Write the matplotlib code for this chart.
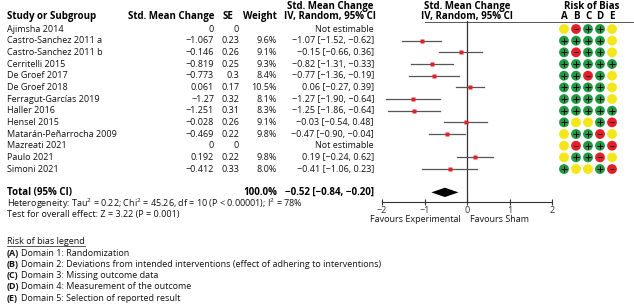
import matplotlib
matplotlib.use('Agg')
import matplotlib.pyplot as plt
import numpy as np

# ---- data ----
studies = ['Ajimsha 2014', 'Castro-Sanchez 2011 a', 'Castro-Sanchez 2011 b',
           'Cerritelli 2015', 'De Groef 2017', 'De Groef 2018',
           'Ferragut-Garcías 2019', 'Haller 2016', 'Hensel 2015',
           'Matarán-Peñarrocha 2009', 'Mazreati 2021', 'Paulo 2021',
           'Simoni 2021']
smc = [0, -1.067, -0.146, -0.819, -0.773, 0.061, -1.27, -1.251, -0.028,
       -0.469, 0, 0.192, -0.412]
se = [0, 0.23, 0.26, 0.25, 0.3, 0.17, 0.32, 0.31, 0.26, 0.22, 0, 0.22, 0.33]
weight = [None, 9.6, 9.1, 9.3, 8.4, 10.5, 8.1, 8.3, 9.1, 9.8, None, 9.8, 8.0]
est = [None, -1.07, -0.15, -0.82, -0.77, 0.06, -1.27, -1.25, -0.03, -0.47,
       None, 0.19, -0.41]
ci_lo = [None, -1.52, -0.66, -1.31, -1.36, -0.27, -1.90, -1.86, -0.54,
         -0.90, None, -0.24, -1.06]
ci_hi = [None, -0.62, 0.36, -0.33, -0.19, 0.39, -0.64, -0.64, 0.48, -0.04,
         None, 0.62, 0.23]
total_est, total_lo, total_hi = -0.52, -0.84, -0.20
heterogeneity = ('Heterogeneity: Tau$^2$ = 0.22; Chi$^2$ = 45.26, df = 10 '
                 '(P < 0.00001); I$^2$ = 78%')
overall = 'Test for overall effect: Z = 3.22 (P = 0.001)'
xticks = [-2, -1, 0, 1, 2]

# risk of bias: '+' low, '-' high, '?' unclear (yellow)
domains = ['A', 'B', 'C', 'D', 'E']
rob = ['?-++?', '++++?', '+-++?', '+++++', '++-+?', '++++?', '++++?',
       '+++++', '+??+-', '?++-?', '?-++-', '?++-?', '+??+-']
legend_lines = ['Randomization',
                'Deviations from intended interventions (effect of adhering to interventions)',
                'Missing outcome data',
                'Measurement of the outcome',
                'Selection of reported result']

W, H = 634, 305
FS = 6.5
FSB = 7.0
plt.rcParams['font.family'] = ['Open Sans', 'DejaVu Sans']
plt.rcParams['mathtext.fontset'] = 'custom'
plt.rcParams['mathtext.rm'] = 'Open Sans'


def fmt(v):
    return f'{v:g}'.replace('-', '\u2212')


def fmt2(v):
    return f'{v:.2f}'.replace('-', '\u2212')


fig = plt.figure(figsize=(W / 100, H / 100), dpi=100)

# text layer in pixel coordinates
ax = fig.add_axes([0, 0, 1, 1])
ax.set_xlim(0, W)
ax.set_ylim(H, 0)
ax.axis('off')

row0, dy = 29, 11.67


def row_y(i):
    return row0 + dy * i


hb = dict(fontsize=FSB, fontweight='bold', va='center')
h1, h2 = 6.5, 16.5
ax.text(7, h2, 'Study or Subgroup', ha='left', **hb)
ax.text(214, h2, 'Std. Mean Change', ha='right', **hb)
ax.text(233, h2, 'SE', ha='right', **hb)
ax.text(277, h2, 'Weight', ha='right', **hb)
ax.text(330, h1, 'Std. Mean Change', ha='center', **hb)
ax.text(330, h2, 'IV, Random, 95% CI', ha='center', **hb)
ax.text(467, h1, 'Std. Mean Change', ha='center', **hb)
ax.text(467, h2, 'IV, Random, 95% CI', ha='center', **hb)
ax.text(592, h1, 'Risk of Bias', ha='center', **hb)
ax.plot([425, W], [22, 22], color='#555555', lw=0.7)

tk = dict(fontsize=FS, va='center', color='#111111')
for i, name in enumerate(studies):
    y = row_y(i)
    ax.text(7, y, name, ha='left', **tk)
    ax.text(214, y, fmt(smc[i]), ha='right', **tk)
    ax.text(239, y, fmt(se[i]), ha='right', **tk)
    if weight[i] is not None:
        ax.text(277, y, f'{weight[i]:.1f}%', ha='right', **tk)
        ax.text(374, y, f'{fmt2(est[i])} [{fmt2(ci_lo[i])}, {fmt2(ci_hi[i])}]',
                ha='right', **tk)
    else:
        ax.text(374, y, 'Not estimable', ha='right', **tk)

yt = row_y(14)
ax.text(7, yt, 'Total (95% CI)', ha='left', **hb)
ax.text(277, yt, f'{sum(w for w in weight if w):.1f}%', ha='right', **hb)
ax.text(374, yt, f'{fmt2(total_est)} [{fmt2(total_lo)}, {fmt2(total_hi)}]',
        ha='right', **hb)
ax.text(7, 204, heterogeneity, ha='left', **tk)
ax.text(7, 215, overall, ha='left', **tk)

leg_title = ax.text(7, 241, 'Risk of bias legend', ha='left', **tk)
for k, (d, txt) in enumerate(zip(domains, legend_lines)):
    y = 253 + 11.3 * k
    ax.text(7, y, f'({d})', ha='left', fontweight='bold', **tk)
    ax.text(21, y, f'Domain {k + 1}: {txt}', ha='left', **tk)

ax.text(461, 220, 'Favours Experimental', ha='right', **tk)
ax.text(470, 220, 'Favours Sham', ha='left', **tk)

# underline the legend title to its own width
fig.canvas.draw()
bb = leg_title.get_window_extent()
ax.plot([7, 7 + bb.width], [246, 246], color='#111111', lw=0.5)

# forest plot axes: -2..2 spans px 382..552, rows share the text grid
top_px, bot_px = 21, 202
ylim_top = (top_px - row0) / dy
ylim_bot = (bot_px - row0) / dy
fx = fig.add_axes([382 / W, 1 - bot_px / H, 170 / W, (bot_px - top_px) / H])
fx.set_xlim(-2, 2)
fx.set_ylim(ylim_bot, ylim_top)
fx.patch.set_alpha(0)
for s in ['top', 'left', 'right']:
    fx.spines[s].set_visible(False)
fx.spines['bottom'].set_color('#333333')
fx.spines['bottom'].set_linewidth(0.8)
fx.set_yticks([])
fx.set_xticks(xticks)
fx.set_xticklabels([fmt(t) for t in xticks], fontsize=FS)
fx.tick_params(axis='x', direction='inout', length=5, width=0.8,
               pad=0.5, colors='#333333')
fx.axvline(0, color='#333333', lw=0.9)

for i in range(len(studies)):
    if est[i] is None:
        continue
    fx.plot([ci_lo[i], ci_hi[i]], [i, i], color='#555555', lw=0.9)
    fx.plot(est[i], i, marker='s', ms=2.2, color='#e0202a', mec='none')

fx.fill([total_lo, total_est, total_hi, total_est],
        [14, 14 - 0.4, 14, 14 + 0.4], color='black', lw=0)

# risk of bias grid: columns 12 px apart starting at 564
rx = fig.add_axes([558 / W, 1 - bot_px / H, 60 / W, (bot_px - top_px) / H])
rx.set_xlim(-0.5, 4.5)
rx.set_ylim(ylim_bot, ylim_top)
rx.axis('off')
colors = {'+': '#1f9a42', '-': '#e2202a', '?': '#f3e61a'}
for i, r in enumerate(rob):
    for j, c in enumerate(r):
        rx.scatter(j, i, s=50, color=colors[c], edgecolors='none', zorder=2)
        if c == '+':
            rx.scatter(j, i, s=14, marker='+', color='black', lw=0.7, zorder=3)
        elif c == '-':
            rx.scatter(j, i, s=12, marker='_', color='black', lw=0.7, zorder=3)
for j, d in enumerate(domains):
    rx.text(j, (h2 - row0) / dy, d, ha='center', va='center', fontsize=FSB,
            fontweight='bold', clip_on=False)

fig.savefig('out.png', dpi=100)
